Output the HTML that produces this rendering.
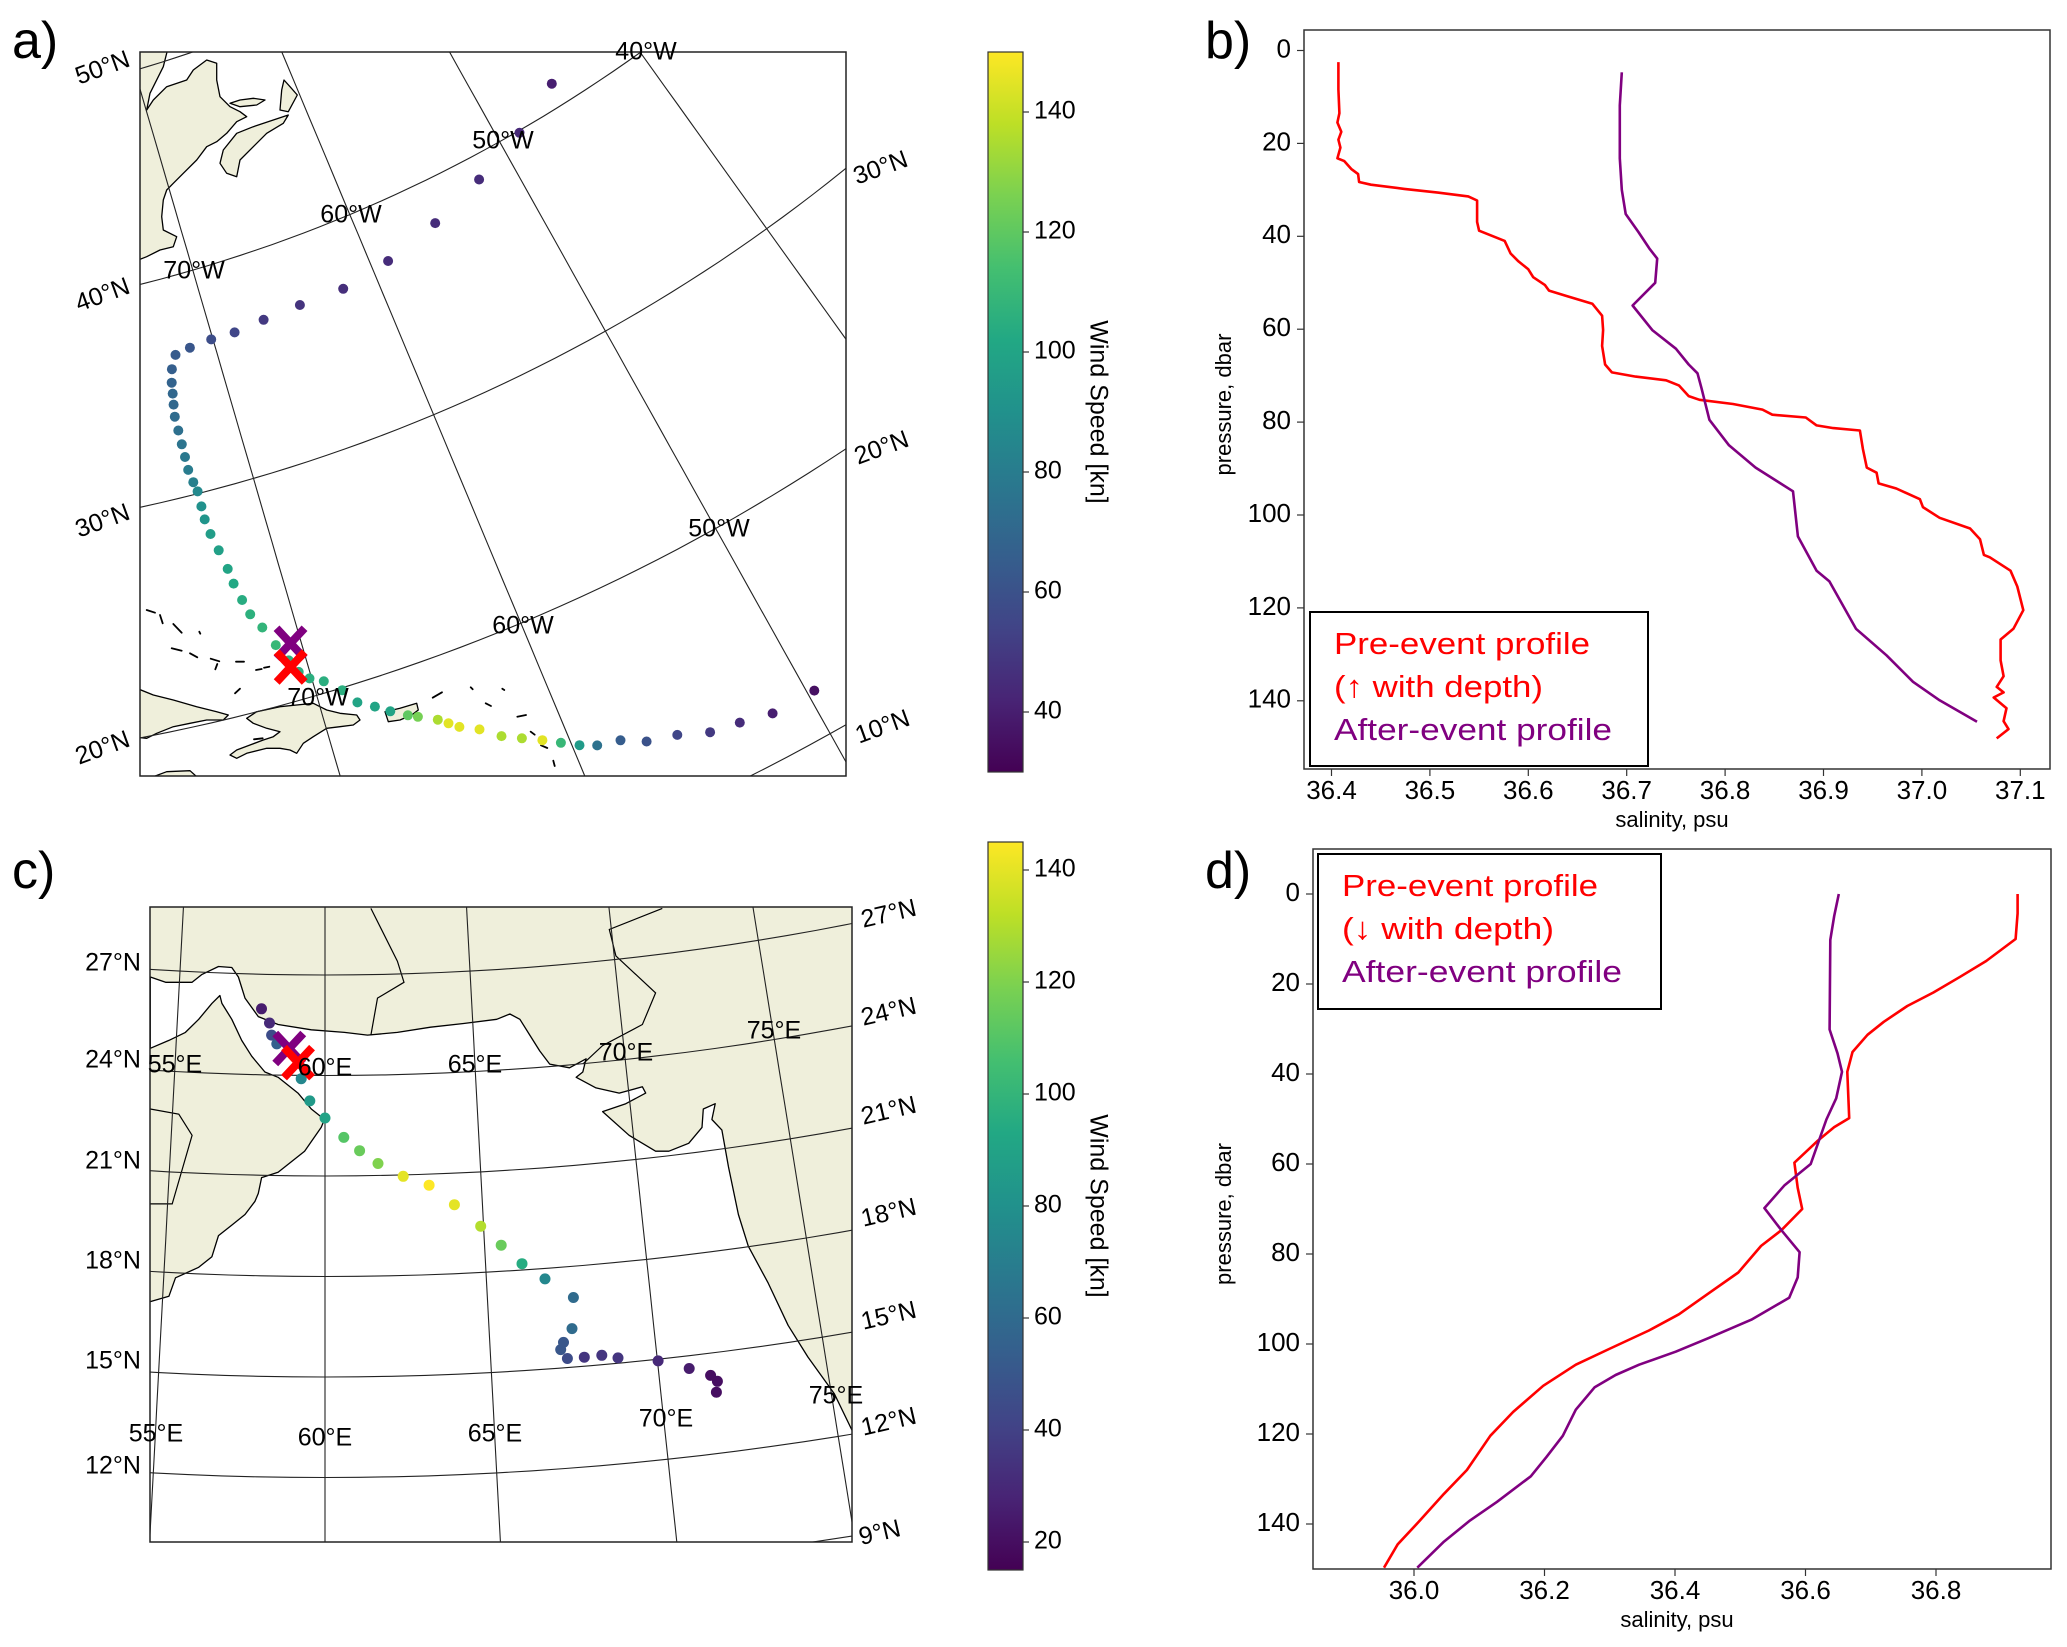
<!DOCTYPE html>
<html><head><meta charset="utf-8"><title>Hurricane tracks and salinity profiles</title>
<style>
html,body{margin:0;padding:0;background:#fff;width:2067px;height:1647px;overflow:hidden;}
svg{display:block;font-family:"Liberation Sans","DejaVu Sans",sans-serif;}
</style></head>
<body>
<svg id="fig" width="2067" height="1647" viewBox="0 0 2067 1647" xmlns="http://www.w3.org/2000/svg">
<defs>
<clipPath id="clipA"><rect x="140" y="52" width="706" height="724"/></clipPath>
<clipPath id="clipC"><rect x="150" y="907" width="702" height="635"/></clipPath>
<clipPath id="clipB"><rect x="1304" y="30" width="746" height="739"/></clipPath>
<clipPath id="clipD"><rect x="1313" y="849" width="738" height="720"/></clipPath>
<linearGradient id="viridisGrad" x1="0" y1="1" x2="0" y2="0">
<stop offset="0" stop-color="#440154"/><stop offset="0.1" stop-color="#482475"/><stop offset="0.2" stop-color="#414487"/><stop offset="0.3" stop-color="#355f8d"/><stop offset="0.4" stop-color="#2a788e"/><stop offset="0.5" stop-color="#21918c"/><stop offset="0.6" stop-color="#22a884"/><stop offset="0.7" stop-color="#44bf70"/><stop offset="0.8" stop-color="#7ad151"/><stop offset="0.9" stop-color="#bddf26"/><stop offset="1" stop-color="#fde725"/>
</linearGradient>
</defs>
<text x="12" y="58" font-size="52">a)</text>
<text x="1205" y="58" font-size="52">b)</text>
<text x="12" y="888" font-size="52">c)</text>
<text x="1205" y="888" font-size="52">d)</text>
<g id="gA"></g>
<g id="gC"></g>
<g id="gB"></g>
<g id="gD"></g>
</svg>
<script>
// ---------- Data: panel a (Atlantic hurricane track) ----------
const trackALon = [-49.7,-51.7,-53.1,-54.4,-55.7,-57.0,-58.0,-59.0,-59.7,-60.4,-61.1,-61.9,-62.7,-63.5,-64.3,-64.7,-65.1,-65.9,-66.3,-67.0,-67.6,-68.3,-68.8,-69.5,-70.1,-70.5,-70.8,-71.2,-71.6,-72.0,-72.2,-72.4,-72.5,-72.7,-72.9,-73.0,-73.0,-73.0,-73.1,-73.2,-73.2,-73.2,-73.2,-73.2,-73.1,-73.0,-72.9,-72.7,-72.3,-71.4,-70.1,-68.7,-66.9,-64.65,-62.0,-59.0,-55.6,-52.15,-48.7,-45.5];
const trackALat = [11.9,11.9,12.2,12.4,12.9,13.2,13.7,13.9,14.2,14.6,15.0,15.4,15.8,16.4,16.8,17.1,17.4,17.8,18.0,18.4,18.8,19.2,19.9,20.5,20.8,21.2,21.8,22.6,23.5,24.2,24.9,25.7,26.4,27.3,28.1,28.8,29.4,30.1,30.55,31.15,31.75,32.35,33.0,33.65,34.2,34.7,35.2,35.8,36.4,36.55,36.65,36.65,36.8,36.9,36.9,37.3,38.0,38.9,39.9,41.1];
const trackAWind = [35,40,45,50,55,60,65,75,95,110,145,135,135,145,145,145,135,125,120,100,100,100,105,105,105,105,105,110,108,106,104,102,100,98,96,92,90,86,82,80,78,76,74,72,70,70,68,66,64,62,58,55,50,48,46,45,45,45,44,40];
const markersALon = [-70.5,-70.8];
const markersALat = [22.5,21.5];
const cbarATicks = [40,60,80,100,120,140];
const latTicksA = [10,20,30,40,50];
const lonTicksA = [-80,-70,-60,-50,-40,-30];

// ---------- Data: panel c (Arabian Sea cyclone track) ----------
const trackCLon = [71.64,71.71,71.53,70.92,70.02,68.83,68.35,67.82,67.31,67.13,67.23,67.52,67.64,66.81,66.13,65.52,64.91,64.11,63.33,62.51,61.71,61.12,60.61,60.0,59.50,59.21,58.38,58.20,58.12,57.84];
const trackCLat = [13.82,14.14,14.34,14.62,14.95,15.16,15.28,15.27,15.27,15.55,15.76,16.15,17.07,17.69,18.19,18.78,19.38,20.06,20.67,20.96,21.36,21.75,22.15,22.73,23.24,23.9,24.93,25.19,25.55,25.97];
const trackCWind = [20,20,20,25,30,35,35,35,45,50,50,60,60,75,95,115,130,140,145,140,120,115,110,90,85,75,55,45,30,25];
const markersCLon = [58.8,59.1];
const markersCLat = [24.8,24.38];
const cbarCTicks = [20,40,60,80,100,120,140];
const latTicksC = [9,12,15,18,21,24,27];
const lonTicksC = [50,55,60,65,70,75,80];

// ---------- Data: panel b profiles ----------
const preBSal = [36.407,36.407,36.408,36.406,36.410,36.407,36.409,36.406,36.413,36.420,36.427,36.428,36.440,36.474,36.508,36.539,36.548,36.548,36.550,36.563,36.576,36.582,36.590,36.600,36.605,36.617,36.621,36.638,36.665,36.675,36.676,36.675,36.678,36.685,36.709,36.740,36.753,36.763,36.774,36.808,36.838,36.848,36.882,36.893,36.910,36.937,36.940,36.944,36.954,36.956,36.974,36.998,37.001,37.018,37.049,37.059,37.063,37.069,37.090,37.097,37.103,37.093,37.080,37.080,37.083,37.076,37.083,37.073,37.086,37.083,37.088,37.076];
const preBP = [2.5,8.4,13.5,15.5,17.5,19.2,20.9,23.2,23.8,25.5,26.6,28.3,28.9,29.8,30.6,31.4,32.3,36.9,38.8,39.9,41.0,43.7,45.4,47.1,48.8,50.5,51.7,52.8,54.5,57.1,60.2,63.6,67.6,69.3,70.2,71.0,72.1,74.4,75.2,76.1,77.3,78.4,79.0,80.7,81.3,81.8,85.8,89.8,90.9,93.2,94.3,96.6,98.3,100.6,102.9,105.2,108.6,109.1,112.0,115.4,120.5,124.5,126.8,131.3,134.7,137.0,138.2,139.3,141.6,144.4,146.1,148.1];
const postBSal = [36.695,36.693,36.693,36.695,36.699,36.712,36.723,36.731,36.729,36.706,36.726,36.750,36.763,36.772,36.776,36.784,36.804,36.831,36.869,36.874,36.893,36.906,36.933,36.964,36.991,37.018,37.056];
const postBP = [4.7,11.8,23.2,30.0,35.2,39.1,42.6,44.8,50.0,54.9,60.2,64.2,67.6,69.5,72.7,79.5,85.0,89.8,94.9,104.6,112.0,114.3,124.5,130.2,135.9,139.9,144.5];
const xTicksB = [36.4,36.5,36.6,36.7,36.8,36.9,37.0,37.1];
const yTicksB = [0,20,40,60,80,100,120,140];

// ---------- Data: panel d profiles ----------
const preDSal = [36.925,36.925,36.922,36.877,36.837,36.796,36.756,36.720,36.695,36.672,36.664,36.667,36.644,36.619,36.583,36.588,36.595,36.563,36.532,36.497,36.451,36.406,36.360,36.299,36.248,36.198,36.152,36.117,36.081,36.046,36.008,35.975,35.954];
const preDP = [0,4.3,10.0,14.9,18.4,21.9,24.9,28.4,31.3,35.1,39.5,49.8,51.8,54.8,59.7,65.3,70.0,74.7,78.2,84.1,88.8,93.4,97.0,101.1,104.6,109.3,115.1,120.4,128.0,133.3,139.4,144.5,149.7];
const postDSal = [36.651,36.644,36.638,36.637,36.649,36.656,36.647,36.632,36.608,36.568,36.537,36.563,36.591,36.588,36.575,36.517,36.451,36.401,36.345,36.309,36.277,36.248,36.228,36.203,36.179,36.127,36.086,36.046,36.005];
const postDP = [0,4.9,10.2,30.1,35.4,39.5,45.4,50.1,60.0,64.7,69.8,74.7,79.6,85.2,89.7,94.6,98.7,101.7,104.6,106.9,109.6,114.6,120.4,125.1,129.4,135.1,139.2,143.9,149.7];
const xTicksD = [36.0,36.2,36.4,36.6,36.8];
const yTicksD = [0,20,40,60,80,100,120,140];

// ---------- helpers ----------
const NS = 'http://www.w3.org/2000/svg';
function el(tag, parent, attrs){
  const e = document.createElementNS(NS, tag);
  for (const k in attrs) e.setAttribute(k, attrs[k]);
  parent.appendChild(e);
  return e;
}
const VIR = ['#440154','#482475','#414487','#355f8d','#2a788e','#21918c','#22a884','#44bf70','#7ad151','#bddf26','#fde725'];
function hex2rgb(h){return [parseInt(h.substr(1,2),16),parseInt(h.substr(3,2),16),parseInt(h.substr(5,2),16)];}
function viridis(t){
  t = Math.max(0, Math.min(1, t));
  const f = t*10, i = Math.min(9, Math.floor(f)), u = f - i;
  const a = hex2rgb(VIR[i]), b = hex2rgb(VIR[i+1]);
  return 'rgb('+a.map((v,k)=>Math.round(v+(b[k]-v)*u)).join(',')+')';
}
function rad(d){return d*Math.PI/180;}

function projA(lon, lat){
  const ang = rad(16.24 + 0.647*(lon+70));
  const d = lat-30;
  const r = 1693 - 22.15*d + 0.045*d*d;
  return [-220 + r*Math.sin(ang), -1147 + r*Math.cos(ang)];
}
function projC(lon, lat){
  const ang = rad(0.61*(lon-60));
  const r = 2725 + 33.5*(27-lat);
  return [325 + r*Math.sin(ang), -1750 + r*Math.cos(ang)];
}
function linePath(pts){return 'M'+pts.map(p=>p[0].toFixed(1)+','+p[1].toFixed(1)).join('L');}

// ===================== PANEL A =====================
const gA = document.getElementById('gA');
const mapA = el('g', gA, {'clip-path':'url(#clipA)'});


el('rect', mapA, {x:140,y:52,width:706,height:724,fill:'#fff'});
function z11(pts){return pts.map(p=>[140+p[0]/3, 50+p[1]/3]);}
function z12(pts){return pts.map(p=>[140+p[0]/3, 600+p[1]/3]);}
const landStyle = {fill:'#efefdb',stroke:'#000','stroke-width':1.3,'stroke-linejoin':'round'};
let lp;
lp = el('path', mapA, Object.assign({d:linePath(z11([[-30,-30],[90,-30],[70,50],[30,130],[20,180],[40,150],[80,110],[140,90],[160,60],[200,30],[230,40],[230,90],[240,140],[270,170],[300,185],[320,200],[290,215],[260,250],[230,275],[200,290],[170,330],[130,370],[100,400],[80,420],[70,450],[65,500],[70,540],[110,560],[100,590],[60,600],[20,620],[-30,640]]))+'Z'}, landStyle));


lp = el('path', mapA, Object.assign({d:linePath(z11([[250,300],[290,250],[340,230],[400,210],[445,195],[430,220],[380,250],[340,290],[300,330],[290,380],[260,370],[240,340]]))+'Z'}, landStyle));


lp = el('path', mapA, Object.assign({d:linePath(z11([[420,180],[425,120],[432,90],[450,110],[472,135],[445,185]]))+'Z'}, landStyle));


lp = el('path', mapA, Object.assign({d:linePath(z11([[270,160],[300,150],[340,145],[375,150],[350,165],[300,170]]))+'Z'}, landStyle));


lp = el('path', mapA, Object.assign({d:linePath(z12([[320,355],[350,335],[420,320],[470,315],[520,310],[540,320],[560,330],[600,340],[650,345],[660,360],[640,375],[600,380],[560,385],[520,410],[490,430],[470,460],[450,450],[420,445],[380,445],[320,460],[290,475],[270,465],[290,450],[330,435],[370,420],[400,410],[420,395],[380,385],[340,370]]))+'Z'}, landStyle));


lp = el('path', mapA, Object.assign({d:linePath(z12([[-10,265],[40,285],[100,300],[170,320],[230,335],[265,345],[250,360],[200,360],[150,370],[100,380],[50,400],[20,415],[-10,412]]))+'Z'}, landStyle));


lp = el('path', mapA, Object.assign({d:linePath(z12([[735,335],[780,325],[830,310],[835,330],[815,345],[780,360],[745,365]]))+'Z'}, landStyle));


lp = el('path', mapA, Object.assign({d:linePath(z12([[40,530],[80,515],[150,512],[170,530]]))+'Z'}, landStyle));


const islets = [[[20,30],[45,38]],[[60,45],[68,70]],[[100,72],[125,98]],[[95,145],[125,152]],[[150,160],[172,172]],[[212,176],[238,184]],[[232,192],[226,208]],[[288,185],[312,185]],[[348,210],[365,207]],[[372,203],[388,200]],[[285,280],[300,266]],[[878,293],[906,277]],[[992,262],[998,268]],[[1037,310],[1053,318]],[[1132,350],[1158,345]],[[1172,395],[1184,404]],[[1203,436],[1222,444]],[[1240,482],[1244,498]],[[342,418],[368,415]],[[178,95],[181,101]],[[1087,266],[1093,270]]];
islets.forEach(s=>{
  const ip = el('path', mapA, {d:linePath(z12(s)), fill:'none', stroke:'#000', 'stroke-width':1.8, 'stroke-linecap':'round'});
  
  
});
const gratA = el('g', mapA, {fill:'none', stroke:'#222', 'stroke-width':1.1});


lonTicksA.forEach(lon=>{
  const pts=[]; for(let la=-10;la<=70;la+=1) pts.push(projA(lon,la));
  const p = el('path', gratA, {d:linePath(pts)});
  
  
});
latTicksA.forEach(lat=>{
  const pts=[]; for(let lo=-100;lo<=-10;lo+=1) pts.push(projA(lo,lat));
  const p = el('path', gratA, {d:linePath(pts)});
  
  
});
for (let i=0;i<trackALon.length;i++){
  const [x,y] = projA(trackALon[i], trackALat[i]);
  const c = el('circle', mapA, {cx:x.toFixed(1), cy:y.toFixed(1), r:5, fill:viridis((trackAWind[i]-30)/120)});
  
  
}
const mColors = ['#800080','#ff0000'];
function drawX(g, x, y, color){
  return el('path', g, {d:`M${x-14},${y-15}L${x+14},${y+15}M${x+14},${y-15}L${x-14},${y+15}`, stroke:color, 'stroke-width':8, fill:'none'});
}
for (let i=0;i<markersALon.length;i++){
  const [x,y] = projA(markersALon[i], markersALat[i]);
  const m = drawX(mapA, x, y, mColors[i]);
  
  
}
let fr = el('rect', gA, {x:140,y:52,width:706,height:724,fill:'none',stroke:'#222','stroke-width':1.5});


function label(g, x, y, txt, rot, name, size){
  const t = el('text', g, {x:x, y:y, 'font-size':size||25, 'text-anchor':'middle', 'dominant-baseline':'middle', transform: rot?`rotate(${rot} ${x} ${y})`:''});
  t.textContent = txt;
  
  
  return t;
}
label(gA,103,69,'50°N',-20,'lat-label');
label(gA,103,296,'40°N',-20,'lat-label');
label(gA,103,522,'30°N',-20,'lat-label');
label(gA,103,749,'20°N',-20,'lat-label');
label(gA,881,169,'30°N',-20,'lat-label');
label(gA,882,449,'20°N',-20,'lat-label');
label(gA,883,728,'10°N',-20,'lat-label');
label(gA,646,53,'40°W',0,'lon-label');
label(gA,503,142,'50°W',0,'lon-label');
label(gA,351,216,'60°W',0,'lon-label');
label(gA,194,272,'70°W',0,'lon-label');
label(gA,719,530,'50°W',0,'lon-label');
label(gA,523,627,'60°W',0,'lon-label');
label(gA,318,699,'70°W',0,'lon-label');
function colorbar(g, x0, y0, x1, y1, vmin, vmax, ticks, name){
  const r = el('rect', g, {x:x0, y:y0, width:x1-x0, height:y1-y0, fill:'url(#viridisGrad)', stroke:'#333', 'stroke-width':1.2});
  
  
  ticks.forEach(v=>{
    const y = y1 - (v-vmin)/(vmax-vmin)*(y1-y0);
    const tk = el('line', g, {x1:x1, x2:x1+6, y1:y, y2:y, stroke:'#333','stroke-width':1.2});
    
    
    const t = el('text', g, {x:x1+11, y:y, 'font-size':25, 'dominant-baseline':'middle'});
    t.textContent = v;
    
    
  });
  const cy = (y0+y1)/2;
  const t = el('text', g, {x:1097, y:cy, 'font-size':25, 'text-anchor':'middle', 'dominant-baseline':'middle', transform:`rotate(90 1097 ${cy})`});
  t.textContent = 'Wind Speed [kn]';
  
  
}
colorbar(gA, 988, 52, 1023, 772, 30, 150, cbarATicks, 'colorbar-a');

// ===================== PANEL C =====================
const gC = document.getElementById('gC');
const mapC = el('g', gC, {'clip-path':'url(#clipC)'});


let landBg = el('rect', mapC, {x:150,y:907,width:702,height:635,fill:'#efefdb'});


function z3(pts){return pts.map(p=>[p[0]/1.51, 824+p[1]/1.895]);}
const seaPts = [[227,290],[250,300],[290,300],[305,285],[330,270],[350,272],[360,290],[370,330],[390,365],[420,380],[470,390],[520,395],[555,400],[600,395],[650,385],[700,378],[750,370],[770,360],[785,370],[800,400],[815,430],[830,455],[860,462],[885,445],[880,470],[870,480],[900,500],[935,510],[970,498],[975,510],[945,530],[910,545],[950,590],[990,620],[1010,620],[1040,605],[1060,575],[1062,540],[1080,530],[1075,560],[1090,580],[1100,650],[1115,740],[1130,800],[1160,870],[1190,950],[1220,1010],[1260,1080],[1287,1150],[1300,1150],[1300,1380],[210,1380],[210,905],[227,905],[255,895],[265,860],[300,840],[320,820],[330,780],[350,760],[370,740],[385,715],[390,700],[395,670],[420,660],[460,620],[485,575],[490,560],[470,540],[450,510],[420,480],[400,470],[380,440],[365,410],[350,370],[335,340],[332,325],[320,340],[300,370],[280,395],[255,410],[227,425]];
const sea = el('path', mapC, {d:linePath(z3(seaPts))+'Z', fill:'#fff', stroke:'#000','stroke-width':1.3,'stroke-linejoin':'round'});


const borders = [[[560,400],[570,330],[610,300],[600,260],[560,160]],[[880,455],[910,420],[970,380],[990,320],[930,250],[920,200],[1000,160]],[[227,540],[270,550],[290,590],[260,720],[227,720]]];
borders.forEach(b=>{
  const bp = el('path', mapC, {d:linePath(z3(b)), fill:'none', stroke:'#000','stroke-width':1.2});
  
  
});
const gratC = el('g', mapC, {fill:'none', stroke:'#222', 'stroke-width':1.1});


lonTicksC.forEach(lon=>{
  const pts=[]; for(let la=0;la<=36;la+=1) pts.push(projC(lon,la));
  const p = el('path', gratC, {d:linePath(pts)});
  
  
});
latTicksC.forEach(lat=>{
  const pts=[]; for(let lo=40;lo<=90;lo+=1) pts.push(projC(lo,lat));
  const p = el('path', gratC, {d:linePath(pts)});
  
  
});
for (let i=0;i<trackCLon.length;i++){
  const [x,y] = projC(trackCLon[i], trackCLat[i]);
  const c = el('circle', mapC, {cx:x.toFixed(1), cy:y.toFixed(1), r:5.5, fill:viridis((trackCWind[i]-15)/130)});
  
  
}
for (let i=0;i<markersCLon.length;i++){
  const [x,y] = projC(markersCLon[i], markersCLat[i]);
  const m = drawX(mapC, x, y, mColors[i]);
  
  
}
fr = el('rect', gC, {x:150,y:907,width:702,height:635,fill:'none',stroke:'#222','stroke-width':1.5});


label(gC,113,964,'27°N',0,'lat-label');
label(gC,113,1061,'24°N',0,'lat-label');
label(gC,113,1162,'21°N',0,'lat-label');
label(gC,113,1262,'18°N',0,'lat-label');
label(gC,113,1362,'15°N',0,'lat-label');
label(gC,113,1467,'12°N',0,'lat-label');
label(gC,889,915,'27°N',-13,'lat-label');
label(gC,889,1013,'24°N',-13,'lat-label');
label(gC,889,1112,'21°N',-13,'lat-label');
label(gC,889,1214,'18°N',-13,'lat-label');
label(gC,889,1317,'15°N',-13,'lat-label');
label(gC,889,1423,'12°N',-13,'lat-label');
label(gC,880,1534,'9°N',-13,'lat-label');
label(gC,175,1066,'55°E',0,'lon-label');
label(gC,325,1069,'60°E',0,'lon-label');
label(gC,475,1066,'65°E',0,'lon-label');
label(gC,626,1054,'70°E',0,'lon-label');
label(gC,774,1032,'75°E',0,'lon-label');
label(gC,156,1435,'55°E',0,'lon-label');
label(gC,325,1439,'60°E',0,'lon-label');
label(gC,495,1435,'65°E',0,'lon-label');
label(gC,666,1420,'70°E',0,'lon-label');
label(gC,836,1397,'75°E',0,'lon-label');
colorbar(gC, 988, 842, 1023, 1570, 15, 145, cbarCTicks, 'colorbar-c');

// ===================== PROFILE PANELS =====================
function profilePanel(g, clip, box, xs, ys, xTicks, yTicks, series, legend){
  const [L,T,R,B] = box;
  const inner = el('g', g, {'clip-path':`url(#${clip})`});
  
  
  series.forEach(s=>{
    const pts = s.sal.map((v,i)=>[xs(v), ys(s.p[i])]);
    const p = el('path', inner, {d:linePath(pts), fill:'none', stroke:s.color, 'stroke-width':2.6, 'stroke-linejoin':'round'});
    
    
  });
  const f = el('rect', g, {x:L,y:T,width:R-L,height:B-T,fill:'none',stroke:'#333','stroke-width':1.5});
  
  
  xTicks.forEach(v=>{
    const x = xs(v);
    const tk = el('line', g, {x1:x,x2:x,y1:B,y2:B+7,stroke:'#333','stroke-width':1.2});
    
    
    const t = el('text', g, {x:x, y:B+23, 'font-size':26, 'text-anchor':'middle', 'dominant-baseline':'middle'});
    t.textContent = v.toFixed(1);
    
    
  });
  yTicks.forEach(v=>{
    const y = ys(v);
    const tk = el('line', g, {x1:L-7,x2:L,y1:y,y2:y,stroke:'#333','stroke-width':1.2});
    
    
    const t = el('text', g, {x:L-13, y:y, 'font-size':26, 'text-anchor':'end', 'dominant-baseline':'middle'});
    t.textContent = v;
    
    
  });
  let t = el('text', g, {x:(L+R)/2 - 5, y:B+52, 'font-size':22, 'text-anchor':'middle', 'dominant-baseline':'middle'});
  t.textContent = 'salinity, psu';
  
  
  const cy = (T+B)/2 + 5;
  t = el('text', g, {x:1225, y:cy, 'font-size':22, 'text-anchor':'middle', 'dominant-baseline':'middle', transform:`rotate(-90 1225 ${cy})`});
  t.textContent = 'pressure, dbar';
  
  
  const lg = el('g', g, {});
  
  
  const lr = el('rect', lg, {x:legend.x, y:legend.y, width:legend.w, height:legend.h, fill:'#fff', stroke:'#000', 'stroke-width':2});
  
  
  legend.lines.forEach((ln,i)=>{
    const tt = el('text', lg, {x:legend.x+24, y:legend.ty[i], 'font-size':31, fill:ln.color, 'dominant-baseline':'middle', textLength:ln.len, lengthAdjust:'spacingAndGlyphs'});
    tt.textContent = ln.text;
    
    
  });
}
const xb = s => 1331.5 + (s-36.4)*984;
const yb = p => 50.5 + p*4.645;
profilePanel(document.getElementById('gB'), 'clipB', [1304,30,2050,769], xb, yb, xTicksB, yTicksB,
  [{sal:preBSal, p:preBP, color:'#ff0000', name:'pre-event-profile-line'},
   {sal:postBSal, p:postBP, color:'#800080', name:'after-event-profile-line'}],
  {x:1310, y:612, w:338, h:154, ty:[646,689,732], lines:[{text:'Pre-event profile',color:'#ff0000',len:256},{text:'(↑ with depth)',color:'#ff0000',len:209},{text:'After-event profile',color:'#800080',len:278}]});
const xd = s => 1414 + (s-36.0)*652.5;
const yd = p => 894 + p*4.5;
profilePanel(document.getElementById('gD'), 'clipD', [1313,849,2051,1569], xd, yd, xTicksD, yTicksD,
  [{sal:preDSal, p:preDP, color:'#ff0000', name:'pre-event-profile-line'},
   {sal:postDSal, p:postDP, color:'#800080', name:'after-event-profile-line'}],
  {x:1318, y:854, w:343, h:155, ty:[888,931,974], lines:[{text:'Pre-event profile',color:'#ff0000',len:256},{text:'(↓ with depth)',color:'#ff0000',len:212},{text:'After-event profile',color:'#800080',len:280}]});
</script>
</body></html>
